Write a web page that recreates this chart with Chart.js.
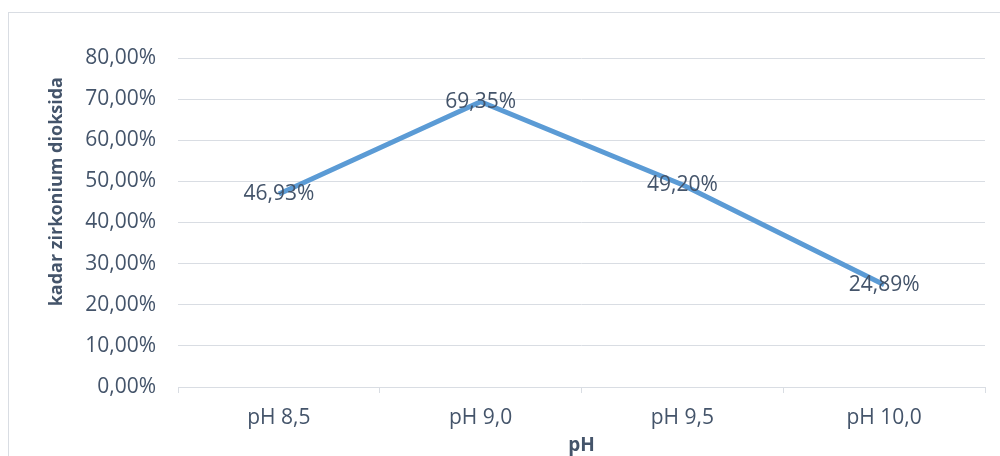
<!DOCTYPE html>
<html>
<head>
<meta charset="utf-8">
<script src="https://cdn.jsdelivr.net/npm/chart.js@4.4.1/dist/chart.umd.min.js"></script>
<style>
  html, body { margin: 0; padding: 0; background: #fff; }
  #wrap { position: relative; width: 1000px; height: 456px; }
</style>
</head>
<body>
<div id="wrap"><canvas id="chart" width="1000" height="456"></canvas></div>
<script>
const categories = ['pH 8,5', 'pH 9,0', 'pH 9,5', 'pH 10,0'];
const kadarValues = [46.93, 69.35, 49.20, 24.89];
const yTicks = [0, 10, 20, 30, 40, 50, 60, 70, 80];
const yTitle = 'kadar zirkonium dioksida';
const xTitle = 'pH';

const TEXT = '#44546a';
const GRID = '#d9dde3';
const FONT = "'Open Sans', sans-serif";

function pct(v) {
    return v.toFixed(2).replace('.', ',') + '%';
}

// light frame round the chart (only top + left visible in the picture)
const framePlugin = {
    id: 'frame',
    beforeDraw(chart) {
        const ctx = chart.ctx;
        ctx.save();
        ctx.strokeStyle = '#d9dde3';
        ctx.lineWidth = 1;
        ctx.strokeRect(8.5, 12.5, 1100, 600);
        ctx.restore();
    }
};

// value labels centred on the points + y title (sits above the axis middle)
const labelPlugin = {
    id: 'pointLabels',
    afterDatasetsDraw(chart) {
        const ctx = chart.ctx;
        const meta = chart.getDatasetMeta(0);
        ctx.save();
        ctx.font = '21px ' + FONT;
        ctx.fillStyle = TEXT;
        ctx.textAlign = 'center';
        ctx.textBaseline = 'middle';
        meta.data.forEach((pt, i) => {
            ctx.fillText(pct(kadarValues[i]), pt.x, pt.y);
        });

        const y = chart.scales.y;
        ctx.translate(56.5, y.getPixelForValue(47.5));
        ctx.rotate(-Math.PI / 2);
        ctx.font = 'bold 18px ' + FONT;
        ctx.fillText(yTitle, 0, 0);
        ctx.restore();
    }
};

new Chart(document.getElementById('chart'), {
    type: 'line',
    data: {
        labels: categories,
        datasets: [{
            data: kadarValues,
            borderColor: '#5b9bd5',
            borderWidth: 5,
            pointRadius: 0,
            fill: false,
            tension: 0
        }]
    },
    options: {
        responsive: false,
        animation: false,
        layout: { padding: { top: 58, right: 15, bottom: 0, left: 0 } },
        plugins: {
            legend: { display: false },
            tooltip: { enabled: false }
        },
        scales: {
            x: {
                offset: true,
                grid: {
                    offset: true,
                    drawOnChartArea: false,
                    color: GRID,
                    tickLength: 6
                },
                border: { color: GRID, width: 1 },
                ticks: {
                    color: TEXT,
                    font: { family: FONT, size: 21 },
                    padding: 12,
                    maxRotation: 0
                },
                title: {
                    display: true,
                    text: xTitle,
                    color: TEXT,
                    font: { family: FONT, size: 19, weight: 'bold' },
                    padding: { top: 0, bottom: -1 }
                },
                afterFit(scale) { scale.height = 69; }
            },
            y: {
                min: 0,
                max: 80,
                afterBuildTicks(scale) {
                    scale.ticks = yTicks.map(v => ({ value: v }));
                },
                grid: { color: GRID, drawTicks: false },
                border: { display: false },
                ticks: {
                    color: TEXT,
                    font: { family: FONT, size: 21 },
                    padding: 22,
                    callback: v => pct(v)
                },
                afterFit(scale) { scale.width = 178; }
            }
        }
    },
    plugins: [framePlugin, labelPlugin]
});
</script>
</body>
</html>
